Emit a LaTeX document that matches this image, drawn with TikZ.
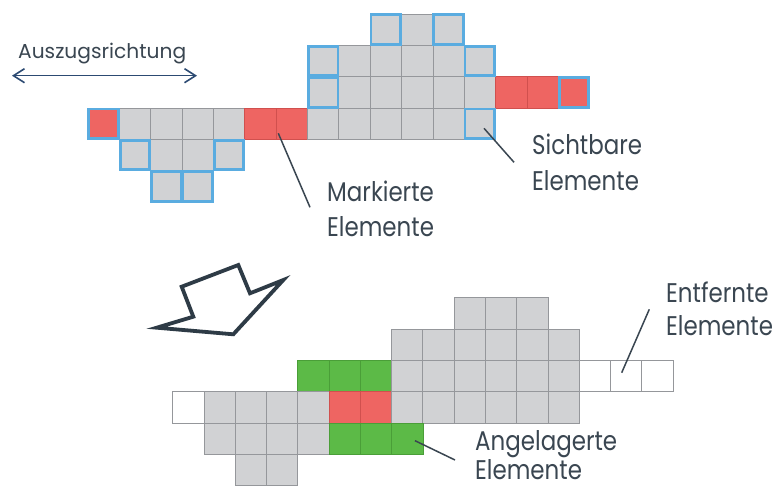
\documentclass[tikz,border=0pt]{standalone}
\usepackage{fontspec}
\setmainfont{Poppins}
\newfontfamily\lblfamily[FakeStretch=0.85]{Poppins}
\usetikzlibrary{arrows.meta}
\definecolor{cellgrey}{HTML}{D1D2D4}
\definecolor{gridline}{HTML}{95979B}
\definecolor{visblue}{HTML}{5AACE0}
\definecolor{markred}{HTML}{EE6562}
\definecolor{markredline}{HTML}{D0504E}
\definecolor{addgreen}{HTML}{5CBA47}
\definecolor{addgreenline}{HTML}{4A9E38}
\definecolor{textdark}{HTML}{3A4651}
\definecolor{arrowblue}{HTML}{2C4A72}
\definecolor{fatarrow}{HTML}{2E3B46}
\newcommand\tc[3]{\node[#3] (t-#1-#2) at ({88+(#1+0.5)*31.35},{14+(#2+0.5)*31.35}) {};}
\newcommand\bc[3]{\node[#3] (b-#1-#2) at ({172.7+(#1+0.5)*31.27},{297.5+(#2+0.5)*31.35}) {};}
\tikzset{
  cellbase/.style={minimum width=31.35pt, minimum height=31.35pt, inner sep=0pt, outer sep=0pt, line width=0.7pt},
  gcell/.style={cellbase, fill=cellgrey, draw=gridline},
  rcell/.style={cellbase, fill=markred, draw=markredline},
  ecell/.style={cellbase, fill=addgreen, draw=addgreenline},
  wcell/.style={cellbase, fill=white, draw=gridline},
  vis/.style={minimum width=29.6pt, minimum height=29.6pt, inner sep=0pt, outer sep=0pt, draw=visblue, line width=2.8pt},
  gvis/.style={vis, fill=cellgrey},
  rvis/.style={vis, fill=markred},
  lbl/.style={text=textdark, inner sep=0pt, anchor=base west, font=\lblfamily\fontsize{27}{32}\selectfont},
  leader/.style={draw=textdark, line width=1.5pt},
}
\begin{document}
\begin{tikzpicture}[x=1pt,y=-1pt]
\fill[white] (0,0) rectangle (774,489);
\useasboundingbox (0,0) rectangle (774,489);

% ---------- top figure ----------
\tc{10}{0}{gcell}
\foreach \c in {8,...,11} {\tc{\c}{1}{gcell}}
\foreach \c in {8,...,12} {\tc{\c}{2}{gcell}}
\tc{13}{2}{rcell}
\tc{14}{2}{rcell}
\foreach \c in {1,...,4} {\tc{\c}{3}{gcell}}
\tc{5}{3}{rcell}
\tc{6}{3}{rcell}
\foreach \c in {7,...,11} {\tc{\c}{3}{gcell}}
\tc{2}{4}{gcell}
\tc{3}{4}{gcell}
% visible (blue framed) elements
\tc{9}{0}{gvis}
\tc{11}{0}{gvis}
\tc{7}{1}{gvis}
\tc{12}{1}{gvis}
\tc{7}{2}{gvis}
\tc{15}{2}{rvis}
\tc{0}{3}{rvis}
\tc{12}{3}{gvis}
\tc{1}{4}{gvis}
\tc{4}{4}{gvis}
\tc{2}{5}{gvis}
\tc{3}{5}{gvis}

% ---------- bottom figure ----------
\foreach \c in {9,...,11} {\bc{\c}{0}{gcell}}
\foreach \c in {7,...,12} {\bc{\c}{1}{gcell}}
\foreach \c in {4,...,6} {\bc{\c}{2}{ecell}}
\foreach \c in {7,...,12} {\bc{\c}{2}{gcell}}
\foreach \c in {13,...,15} {\bc{\c}{2}{wcell}}
\bc{0}{3}{wcell}
\foreach \c in {1,...,4} {\bc{\c}{3}{gcell}}
\bc{5}{3}{rcell}
\bc{6}{3}{rcell}
\foreach \c in {7,...,12} {\bc{\c}{3}{gcell}}
\foreach \c in {1,...,4} {\bc{\c}{4}{gcell}}
\foreach \c in {5,...,7} {\bc{\c}{4}{ecell}}
\bc{2}{5}{gcell}
\bc{3}{5}{gcell}

% ---------- direction arrow ----------
\node[lbl, font=\fontsize{20.2}{24}\selectfont] (ausz) at (18,59) {Auszugsrichtung};
\coordinate (auszL) at (12,75.7);
\coordinate (auszR) at (197,75.7);
\draw[arrowblue, line width=1.6pt, {Straight Barb[length=11pt,width=14pt]}-{Straight Barb[length=11pt,width=14pt]}] (auszL) -- (auszR);

% ---------- big outline arrow ----------
\draw[fatarrow, line width=3.8pt, line join=miter] (156.7,327.7) -- (193.3,316.7) -- (181.7,286.7) -- (238.3,265) -- (250,293.3) -- (283.3,280) -- (233.3,334.3) -- cycle;

% ---------- labels ----------
\node[lbl] (mark1) at (327,201.7) {Markierte};
\node[lbl] (mark2) at (327,236.7) {Elemente};
\coordinate (markA) at (278.3,133.3);
\coordinate (markB) at (310,207.3);
\draw[leader] (markA) -- (markB);

\node[lbl] (sicht1) at (532,154.3) {Sichtbare};
\node[lbl] (sicht2) at (532,190.7) {Elemente};
\coordinate (sichtA) at (484,128.3);
\coordinate (sichtB) at (514,162.3);
\draw[leader] (sichtA) -- (sichtB);

\node[lbl] (ang1) at (475,450) {Angelagerte};
\node[lbl] (ang2) at (475,479) {Elemente};
\coordinate (angA) at (415,440.7);
\coordinate (angB) at (455,460);
\draw[leader] (angA) -- (angB);

\node[lbl] (ent1) at (666,302) {Entfernte};
\node[lbl] (ent2) at (666,335) {Elemente};
\coordinate (entA) at (649.3,309.3);
\coordinate (entB) at (621.7,372.7);
\draw[leader] (entA) -- (entB);
\end{tikzpicture}
\end{document}
